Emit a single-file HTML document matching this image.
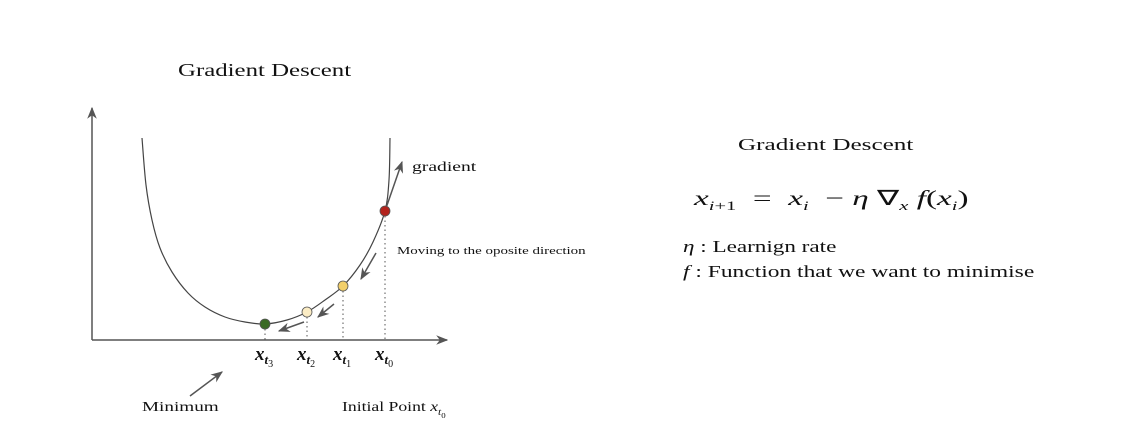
<!DOCTYPE html>
<html><head><meta charset="utf-8"><style>
body{margin:0;background:#fff;width:1137px;height:445px;overflow:hidden;font-family:"Liberation Serif",serif;color:#111}
svg{position:absolute;left:0;top:0}
.t{position:absolute;white-space:nowrap;transform-origin:0 50%}
i{font-style:italic}
</style></head><body>
<svg width="1137" height="445">
<defs><marker id="ah" viewBox="0 0 10 10" refX="9" refY="5" markerWidth="8" markerHeight="8" orient="auto"><path d="M0,1 L10,5 L0,9 L3,5 Z" fill="#555"/></marker></defs>
<g id="plot"></g>
</svg>
<div class="t" style="left:178px;top:60px;font-size:18px;transform:scaleX(1.38)">Gradient Descent</div>
<div class="t" style="left:412px;top:160px;font-size:14px;transform:scaleX(1.4)">gradient</div>
<div class="t" style="left:397px;top:245px;font-size:11px;transform:scaleX(1.36)">Moving to the oposite direction</div>
<div class="t" style="left:142px;top:400px;font-size:14px;transform:scaleX(1.37)">Minimum</div>
<div class="t" style="left:342px;top:400px;font-size:14px;transform:scaleX(1.26)">Initial Point <i>x</i><sub style="font-size:9px"><i>t</i><sub style="font-size:7px">0</sub></sub></div>
<div class="t" style="left:738px;top:135px;font-size:17px;transform:scaleX(1.48)">Gradient Descent</div>
<div class="t" style="left:694px;top:186px;font-size:21px;transform:scaleX(1.58)"><i>x</i><sub style="font-size:13px"><i>i</i>+1</sub> &nbsp;= &nbsp;<i>x</i><sub style="font-size:13px"><i>i</i></sub> &nbsp;− <i>η</i> ∇<sub style="font-size:13px"><i>x</i></sub> <i>f</i>(<i>x</i><sub style="font-size:13px"><i>i</i></sub>)</div>
<div class="t" style="left:683px;top:237px;font-size:17px;transform:scaleX(1.36)"><i>η</i> : Learnign rate</div>
<div class="t" style="left:683px;top:262px;font-size:17px;transform:scaleX(1.38)"><i>f</i> : Function that we want to minimise</div>
<script>
const curveX=[142,146,152,160,172,188,205,225,245,265,287,307,325,343,360,373,385,389,390];
const curveY=[138,185,220,248,272,293,307,317,322,324,320,312,300,286,265,242,211,180,138];
const stepX=[385,343,307,265];
const stepY=[211,286,312,324];
const stepColors=["#b3231d","#f2cf6a","#fbecc4","#3a6a25"];
const stepLabels=["0","1","2","3"];
const g=document.getElementById('plot');
const NS="http://www.w3.org/2000/svg";
function mk(t,a){const e=document.createElementNS(NS,t);for(const k in a)e.setAttribute(k,a[k]);g.appendChild(e);return e;}
let e=mk('line',{x1:92,y1:340,x2:92,y2:108,stroke:'#555','stroke-width':1.5,'marker-end':'url(#ah)'});


e=mk('line',{x1:92,y1:340,x2:447,y2:340,stroke:'#555','stroke-width':1.5,'marker-end':'url(#ah)'});


let d='';
for(let i=0;i<curveX.length;i++){
  if(i===0){d+='M'+curveX[i]+','+curveY[i];continue;}
  const p0=[curveX[Math.max(i-2,0)],curveY[Math.max(i-2,0)]],p1=[curveX[i-1],curveY[i-1]],p2=[curveX[i],curveY[i]],p3=[curveX[Math.min(i+1,curveX.length-1)],curveY[Math.min(i+1,curveX.length-1)]];
  d+=' C'+(p1[0]+(p2[0]-p0[0])/6)+','+(p1[1]+(p2[1]-p0[1])/6)+' '+(p2[0]-(p3[0]-p1[0])/6)+','+(p2[1]-(p3[1]-p1[1])/6)+' '+p2[0]+','+p2[1];
}
e=mk('path',{d:d,fill:'none',stroke:'#444','stroke-width':1.2});


e=mk('line',{x1:385,y1:211,x2:402,y2:162,stroke:'#555','stroke-width':1.5,'marker-end':'url(#ah)'});


const arrows=[[376,253,361,279],[334,304,318,317],[304,322,279,331],[190,396,222,372]];
arrows.forEach(a=>{
  const l=mk('line',{x1:a[0],y1:a[1],x2:a[2],y2:a[3],stroke:'#555','stroke-width':1.5,'marker-end':'url(#ah)'});
  
  
});
for(let i=0;i<stepX.length;i++){
  const l=mk('line',{x1:stepX[i],y1:stepY[i]+5,x2:stepX[i],y2:340,stroke:'#555','stroke-width':1,'stroke-dasharray':'1.5,3'});
  
  
  const c=mk('circle',{cx:stepX[i],cy:stepY[i],r:5,fill:stepColors[i],stroke:'#555','stroke-width':0.8});
  
  
  const t=mk('text',{x:stepX[i]-10,y:360,'font-family':'Liberation Serif, serif','font-size':19,'font-style':'italic','font-weight':'bold',fill:'#111'});
  
  
  t.innerHTML='x<tspan font-size="13" dy="4">t</tspan><tspan font-size="10" dy="3" font-style="normal" font-weight="normal">'+stepLabels[i]+'</tspan>';
}
</script>
</body></html>
